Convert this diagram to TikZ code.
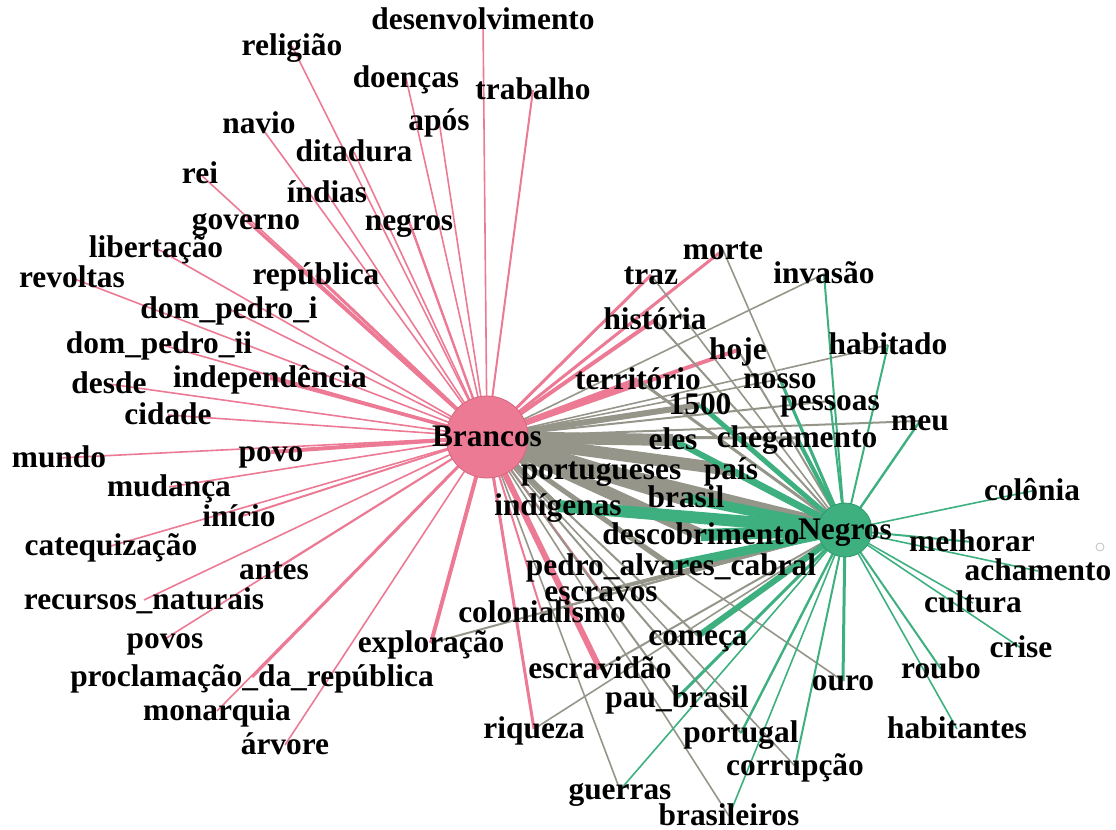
\documentclass[tikz,border=0pt]{standalone}
\usepackage{fontspec}
\setmainfont{Liberation Serif}
\usepackage{tikz}
\usetikzlibrary{
  backgrounds,
}
\definecolor{brancosPink}{HTML}{EC7A95}
\definecolor{brancosLine}{HTML}{D9657F}
\definecolor{negrosGreen}{HTML}{3EB080}
\definecolor{negrosLine}{HTML}{2F9A6C}
\definecolor{mixGray}{HTML}{96958A}
\tikzset{
  word/.style={
    font=\bfseries\fontsize{15.7}{18}\selectfont, inner sep=0pt,
    text height=0.96em, text depth=0pt, anchor=center,
  },
  hub/.style 2 args={
    circle, fill=#1, draw=#2, line width=0.4pt, inner sep=0pt,
  },
  pinkEdge/.style={draw=brancosPink},
  greenEdge/.style={draw=negrosGreen},
  grayEdge/.style={draw=mixGray},
}

\begin{document}
\begin{tikzpicture}[x=0.5pt, y=-0.5pt]
\useasboundingbox (0,0) rectangle (1116,830);

% the two groups
\node[hub={brancosPink}{brancosLine}, minimum size=41pt] (brancos) at (487,437) {};
\node[hub={negrosGreen}{negrosLine}, minimum size=27pt] (negros) at (845,530) {};
\node[word] at (brancos.center) {Brancos};
\node[word] at (negros.center) {Negros};
\node[circle, draw=black!25, line width=0.4pt, minimum size=4pt, inner sep=0pt] (isolado) at (1100,547) {};

% words of Brancos
\node[word] (desenvolvimento) at (483,20) {desenvolvimento};
\node[word] (religiao) at (292,46) {religião};
\node[word] (doencas) at (406,78) {doenças};
\node[word] (trabalho) at (533,90) {trabalho};
\node[word] (apos) at (439,121) {após};
\node[word] (navio) at (259,124) {navio};
\node[word] (ditadura) at (354,152) {ditadura};
\node[word] (rei) at (200,174) {rei};
\node[word] (indias) at (327,193) {índias};
\node[word] (negrosw) at (409,221) {negros};
\node[word] (governo) at (246,220) {governo};
\node[word] (libertacao) at (156,248) {libertação};
\node[word] (revoltas) at (72,278) {revoltas};
\node[word] (republica) at (316,275) {república};
\node[word] (dompedroi) at (229,309) {dom\_pedro\_i};
\node[word] (dompedroii) at (159,344) {dom\_pedro\_ii};
\node[word] (independencia) at (270,378) {independência};
\node[word] (desde) at (109,384) {desde};
\node[word] (cidade) at (168,415) {cidade};
\node[word] (mundo) at (59,458) {mundo};
\node[word] (povo) at (271,452) {povo};
\node[word] (mudanca) at (169,487) {mudança};
\node[word] (inicio) at (239,517) {início};
\node[word] (catequizacao) at (111,546) {catequização};
\node[word] (antes) at (274,570) {antes};
\node[word] (recursos) at (144,600) {recursos\_naturais};
\node[word] (povos) at (165,639) {povos};
\node[word] (proclamacao) at (252,677) {proclamação\_da\_república};
\node[word] (monarquia) at (217,711) {monarquia};
\node[word] (arvore) at (285,745) {árvore};
\node[word] (exploracao) at (431,643) {exploração};
\node[word] (colonialismo) at (542,613) {colonialismo};
\node[word] (escravidao) at (600,669) {escravidão};
\node[word] (riqueza) at (534,729) {riqueza};
\node[word] (escravos) at (601,592) {escravos};
\node[word] (portugueses) at (601,470) {portugueses};
\node[word] (territorio) at (638,380) {território};
\node[word] (hoje) at (738,350) {hoje};
\node[word] (historia) at (655,320) {história};
\node[word] (traz) at (651,275) {traz};
\node[word] (morte) at (723,250) {morte};

% words of Negros
\node[word] (invasao) at (824,274) {invasão};
\node[word] (habitado) at (888,345) {habitado};
\node[word] (nosso) at (780,379) {nosso};
\node[word] (pessoas) at (830,401) {pessoas};
\node[word] (meu) at (920,421) {meu};
\node[word] (chegamento) at (797,438) {chegamento};
\node[word] (mil) at (700,405) {1500};
\node[word] (eles) at (673,440) {eles};
\node[word] (pais) at (731,470) {país};
\node[word] (brasil) at (686,498) {brasil};
\node[word] (descobrimento) at (701,535) {descobrimento};
\node[word] (indigenas) at (558,506) {indígenas};
\node[word] (pedro) at (671,566) {pedro\_alvares\_cabral};
\node[word] (comeca) at (698,636) {começa};
\node[word] (paubrasil) at (677,698) {pau\_brasil};
\node[word] (ouro) at (843,681) {ouro};
\node[word] (portugal) at (741,733) {portugal};
\node[word] (corrupcao) at (795,766) {corrupção};
\node[word] (guerras) at (620,790) {guerras};
\node[word] (brasileiros) at (729,816) {brasileiros};
\node[word] (colonia) at (1032,491) {colônia};
\node[word] (melhorar) at (972,542) {melhorar};
\node[word] (achamento) at (1038,571) {achamento};
\node[word] (cultura) at (973,603) {cultura};
\node[word] (crise) at (1021,648) {crise};
\node[word] (roubo) at (941,669) {roubo};
\node[word] (habitantes) at (957,729) {habitantes};

\begin{scope}[on background layer]
  % Brancos to its own words
  \foreach \w/\lw in {desenvolvimento/0.8pt, religiao/0.8pt, doencas/0.8pt,
      trabalho/1pt, apos/0.8pt, navio/0.8pt, ditadura/0.8pt, rei/0.8pt,
      indias/0.8pt, negrosw/1.2pt, governo/1.5pt, libertacao/0.8pt,
      revoltas/0.8pt, republica/1.5pt, dompedroi/0.8pt, dompedroii/0.8pt,
      independencia/1.8pt, desde/0.8pt, cidade/0.8pt, mundo/0.8pt,
      povo/2pt, mudanca/0.8pt, inicio/1pt, catequizacao/0.8pt, antes/1pt,
      recursos/0.8pt, povos/0.8pt, proclamacao/1.5pt, monarquia/0.8pt,
      arvore/0.8pt, exploracao/2pt, colonialismo/1pt, escravidao/3pt,
      riqueza/1.5pt, escravos/1pt, portugueses/6pt, territorio/3pt,
      hoje/2pt, historia/2pt, traz/1.5pt, morte/1.5pt}
    \draw[pinkEdge, line width=\lw] (brancos.center) -- (\w.center);
  % Negros to the words of Brancos
  \foreach \w/\lw in {morte/0.8pt, traz/0.8pt, historia/1pt, hoje/1pt,
      territorio/1.5pt, portugueses/7pt, escravos/2pt, colonialismo/1pt,
      exploracao/1pt, escravidao/1pt, riqueza/0.8pt}
    \draw[grayEdge, line width=\lw] (negros.center) -- (\w.center);
  % Brancos to the words of Negros
  \foreach \w/\lw in {invasao/0.8pt, habitado/0.8pt, nosso/0.8pt,
      pessoas/1pt, meu/1pt, chegamento/1.5pt, mil/3pt, eles/6pt, pais/6pt,
      brasil/8pt, descobrimento/6pt, indigenas/2.5pt, pedro/2.5pt,
      comeca/1pt, paubrasil/1pt, ouro/0.8pt, portugal/1pt, guerras/0.8pt,
      corrupcao/0.8pt, brasileiros/0.8pt}
    \draw[grayEdge, line width=\lw] (brancos.center) -- (\w.center);
  % Negros to its own words
  \foreach \w/\lw in {invasao/1pt, habitado/1pt, nosso/1.5pt, pessoas/1pt,
      meu/1.2pt, chegamento/2pt, mil/2.5pt, eles/3pt, pais/3.5pt,
      brasil/5pt, descobrimento/6pt, indigenas/6pt, pedro/4.5pt,
      comeca/3pt, paubrasil/1.5pt, ouro/1.5pt, portugal/1.2pt,
      guerras/0.8pt, corrupcao/1pt, brasileiros/0.8pt, colonia/0.8pt,
      melhorar/1pt, achamento/0.8pt, cultura/0.8pt, crise/0.8pt,
      roubo/1pt, habitantes/0.8pt}
    \draw[greenEdge, line width=\lw] (negros.center) -- (\w.center);
\end{scope}
\end{tikzpicture}
\end{document}
